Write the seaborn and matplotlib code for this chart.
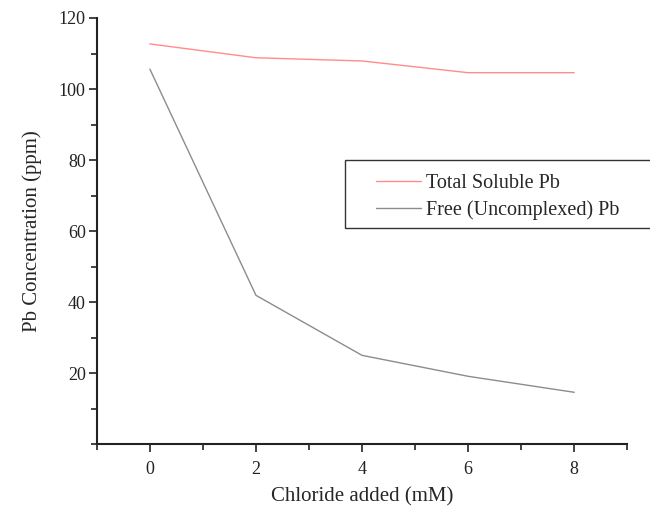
import matplotlib
matplotlib.use("Agg")
import matplotlib.pyplot as plt
import seaborn as sns
import pandas as pd
from matplotlib.ticker import MultipleLocator
from matplotlib.patches import Rectangle

chloride = [0, 2, 4, 6, 8]
total_soluble = [112.7, 108.8, 107.9, 104.6, 104.6]
free_pb = [105.6, 41.9, 25.0, 19.1, 14.6]
series_names = ["Total Soluble Pb", "Free (Uncomplexed) Pb"]

df = pd.DataFrame({
    "x": chloride * 2,
    "y": total_soluble + free_pb,
    "series": [series_names[0]] * len(chloride) + [series_names[1]] * len(chloride),
})

sns.set_style("ticks")
plt.rcParams["font.family"] = ["Liberation Serif", "DejaVu Serif"]

fig = plt.figure(figsize=(6.5, 5.07), dpi=100)
ax = fig.add_axes([0.149, 0.124, 0.816, 0.8405])

sns.lineplot(data=df, x="x", y="y", hue="series",
             palette={series_names[0]: "#ff8c8c", series_names[1]: "#8c8c8c"},
             linewidth=1.0, ax=ax)

ax.set_xlim(-1, 9)
ax.set_ylim(0, 120)
ax.set_xticks([0, 2, 4, 6, 8])
ax.set_yticks([20, 40, 60, 80, 100, 120])
ax.xaxis.set_minor_locator(MultipleLocator(1))
ax.yaxis.set_minor_locator(MultipleLocator(10))
ax.tick_params(which="major", direction="out", length=6, width=1.2, labelsize=13, colors="#222222")
ax.tick_params(which="minor", direction="out", length=4, width=1.2, colors="#222222")
ax.tick_params(axis="x", pad=6)
ax.tick_params(axis="y", pad=2)
for s in ["left", "bottom"]:
    ax.spines[s].set_linewidth(1.5)
    ax.spines[s].set_color("#222222")
sns.despine(ax=ax)

ax.set_xlabel("Chloride added (mM)", fontsize=15, labelpad=7)
ax.set_ylabel("Pb Concentration (ppm)", fontsize=15, labelpad=12)

# legend frame (extends past the right edge, as in the reference)
frame = Rectangle((0.4676, 0.507), 1.0, 0.16, transform=ax.transAxes,
                  facecolor="white", edgecolor="#333333", linewidth=1.0,
                  clip_on=False, zorder=4)
ax.add_patch(frame)

leg = ax.legend(loc="upper left", bbox_to_anchor=(0.527, 0.634),
                fontsize=14.5, frameon=False,
                handlelength=2.2, handletextpad=0.25, borderpad=0.0,
                labelspacing=0.35, borderaxespad=0)
leg.set_zorder(5)

fig.savefig("out.png", dpi=100)
